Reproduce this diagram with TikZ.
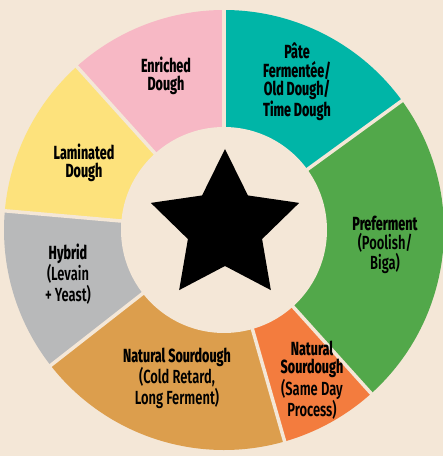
\documentclass[tikz,border=0pt]{standalone}
\usepackage{fontspec}
\usetikzlibrary{shapes.geometric}
\newfontfamily\labelfont[FakeStretch=0.66]{Fira Sans ExtraBold}
\newfontfamily\subfont[FakeStretch=0.68]{Fira Sans SemiBold}
\newcommand\subline[1]{{\subfont #1}}
\definecolor{creambg}{HTML}{F4E7D7}
\definecolor{pateteal}{HTML}{00B5A7}
\definecolor{prefgreen}{HTML}{52A84A}
\definecolor{sameorange}{HTML}{F37C3E}
\definecolor{coldgold}{HTML}{DC9E4D}
\definecolor{hybridgrey}{HTML}{B8B9BA}
\definecolor{lamyellow}{HTML}{FDE27C}
\definecolor{enrichpink}{HTML}{F7B8C5}
\tikzset{gap/.style={draw=creambg, line width=3.5pt}}
\tikzset{hub/.style={circle, fill=creambg, inner sep=0pt, minimum size=206pt}}
\tikzset{doughlabel/.style={align=center, inner sep=0pt, font=\labelfont\fontsize{19}{18.5}\selectfont}}

\begin{document}
\begin{tikzpicture}[x=1pt, y=1pt]
            \fill [creambg] (0, 0) rectangle (443, 456);
            \useasboundingbox (0, 0) rectangle (443, 456);
            \coordinate (C) at (224, 226);

            \foreach \a/\b/\col in {36/90/pateteal, 90/132/enrichpink, 132/175/lamyellow,
                                    175/218/hybridgrey, 218/286/coldgold, 286/312/sameorange,
                                    312/396/prefgreen}
                \fill [\col, shift={(C)}] (0, 0) -- (\a:220) arc [start angle=\a, end angle=\b, radius=220] -- cycle;

            \foreach \a in {36, 90, 132, 175, 218, 286, 312}
                \draw [gap] (C) -- ++(\a:226);

            \node [hub] (hole) at (C) {};
            \node [star, star points=5, star point ratio=2, fill=black, inner sep=0pt, minimum size=156pt] (centerstar) at (225, 229) {};

            \node [doughlabel] (pate) at (297, 374) {Pâte\\Fermentée/\\Old Dough/\\Time Dough};
            \node [doughlabel] (enriched) at (166, 380) {Enriched\\Dough};
            \node [doughlabel] (laminated) at (84, 293) {Laminated\\Dough};
            \node [doughlabel] (hybrid) at (68, 182) {Hybrid\\\subline{(Levain}\\\subline{+ Yeast)}};
            \node [doughlabel] (coldretard) at (177, 78) {Natural Sourdough\\\subline{(Cold Retard,}\\\subline{Long Ferment)}};
            \node [doughlabel] (sameday) at (312, 76) {Natural\\Sourdough\\\subline{(Same Day}\\\subline{Process)}};
            \node [doughlabel] (preferment) at (385, 211) {Preferment\\\subline{(Poolish/}\\\subline{Biga)}};
        \end{tikzpicture}
\end{document}
